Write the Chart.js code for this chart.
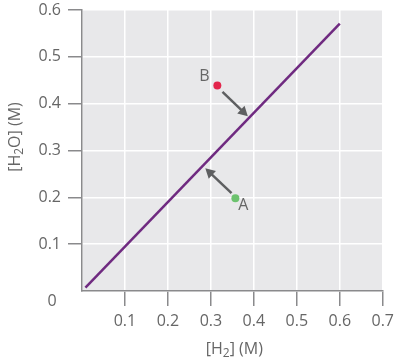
<!DOCTYPE html>
<html>
<head>
<meta charset="utf-8">
<script src="https://cdn.jsdelivr.net/npm/chart.js@4/dist/chart.umd.min.js"></script>
<style>
  html, body { margin: 0; padding: 0; background: #fff; }
  #wrap { width: 400px; height: 362px; }
</style>
</head>
<body>
<div id="wrap"><canvas id="chart" width="400" height="362"></canvas></div>
<script>
// equilibrium line ([H2], [H2O])
const lineX = [0.008, 0.6];
const lineY = [0.007, 0.571];

// the two states
const pointNames = ["B", "A"];
const pointX = [0.315, 0.357];
const pointY = [0.439, 0.198];
const pointColors = ["#e3264c", "#6cc26e"];

// arrows toward the line
const arrowFromX = [0.327, 0.348];
const arrowFromY = [0.425, 0.209];
const arrowToX = [0.386, 0.287];
const arrowToY = [0.373, 0.262];

const xTicks = [0, 0.1, 0.2, 0.3, 0.4, 0.5, 0.6, 0.7];
const yTicks = [0, 0.1, 0.2, 0.3, 0.4, 0.5, 0.6];

const textColor = "#666";
const fontFamily = "'Open Sans', sans-serif";

// draw a label with a subscript piece: parts = [[text, isSub], ...]
function drawRich(ctx, parts, cx, cy, size) {
  const subSize = Math.round(size * 0.72);
  let total = 0;
  parts.forEach(([t, sub]) => {
    ctx.font = (sub ? subSize : size) + "px " + fontFamily;
    total += ctx.measureText(t).width;
  });
  let x = cx - total / 2;
  ctx.textAlign = "left";
  ctx.textBaseline = "middle";
  parts.forEach(([t, sub]) => {
    ctx.font = (sub ? subSize : size) + "px " + fontFamily;
    ctx.fillText(t, x, sub ? cy + 5 : cy);
    x += ctx.measureText(t).width;
  });
}

const backgroundPlugin = {
  id: "plotBg",
  beforeDraw(chart) {
    const { ctx, chartArea: a } = chart;
    ctx.save();
    ctx.fillStyle = "#e8e8ea";
    ctx.fillRect(a.left, a.top, a.right - a.left, a.bottom - a.top);
    ctx.restore();
  },
};

const extrasPlugin = {
  id: "extras",
  afterDatasetsDraw(chart) {
    const { ctx } = chart;
    const xs = chart.scales.x;
    const ys = chart.scales.y;
    ctx.save();

    // arrows
    ctx.strokeStyle = "#5e5f61";
    ctx.fillStyle = "#5e5f61";
    ctx.lineWidth = 2.5;
    arrowFromX.forEach((fx, i) => {
      const x1 = xs.getPixelForValue(fx);
      const y1 = ys.getPixelForValue(arrowFromY[i]);
      const x2 = xs.getPixelForValue(arrowToX[i]);
      const y2 = ys.getPixelForValue(arrowToY[i]);
      const ang = Math.atan2(y2 - y1, x2 - x1);
      const head = 11;
      ctx.beginPath();
      ctx.moveTo(x1, y1);
      ctx.lineTo(x2 - Math.cos(ang) * head * 0.8, y2 - Math.sin(ang) * head * 0.8);
      ctx.stroke();
      ctx.beginPath();
      ctx.moveTo(x2, y2);
      ctx.lineTo(x2 - head * Math.cos(ang - 0.5), y2 - head * Math.sin(ang - 0.5));
      ctx.lineTo(x2 - head * Math.cos(ang + 0.5), y2 - head * Math.sin(ang + 0.5));
      ctx.closePath();
      ctx.fill();
    });

    // point names
    ctx.fillStyle = textColor;
    ctx.font = "16px " + fontFamily;
    ctx.textBaseline = "middle";
    ctx.textAlign = "center";
    const offsets = [[-13, -9], [8, 7]];
    pointNames.forEach((n, i) => {
      const px = xs.getPixelForValue(pointX[i]);
      const py = ys.getPixelForValue(pointY[i]);
      ctx.fillText(n, px + offsets[i][0], py + offsets[i][1]);
    });

    // origin "0"
    ctx.fillText("0", 52, ys.getPixelForValue(0) + 10);

    // axis titles
    drawRich(ctx, [["[H", false], ["2", true], ["] (M)", false]], (xs.left + xs.right) / 2 + 2, 349, 16);
    ctx.translate(15, 137);
    ctx.rotate(-Math.PI / 2);
    drawRich(ctx, [["[H", false], ["2", true], ["O] (M)", false]], 0, 0, 16);
    ctx.restore();
  },
};

const tickMarkColor = (c) => (c.tick && c.tick.value === 0 ? "rgba(0,0,0,0)" : "#8a8a8c");

new Chart(document.getElementById("chart"), {
  type: "scatter",
  data: {
    datasets: [
      {
        data: lineX.map((x, i) => ({ x, y: lineY[i] })),
        showLine: true,
        borderColor: "#6f2a80",
        borderWidth: 2.5,
        pointRadius: 0,
      },
      {
        data: pointX.map((x, i) => ({ x, y: pointY[i] })),
        pointBackgroundColor: pointColors,
        pointBorderColor: pointColors,
        pointRadius: 4,
        pointBorderWidth: 0,
      },
    ],
  },
  options: {
    responsive: false,
    animation: false,
    layout: { padding: { top: 10, right: 15, left: 0, bottom: 0 } },
    plugins: {
      legend: { display: false },
      tooltip: { enabled: false },
    },
    scales: {
      x: {
        type: "linear",
        min: 0,
        max: 0.7,
        afterBuildTicks: (s) => { s.ticks = xTicks.map((v) => ({ value: v })); },
        afterFit: (s) => { s.height = 71; },
        ticks: {
          callback: (v) => (v === 0 ? "" : v.toFixed(1)),
          color: textColor,
          font: { family: fontFamily, size: 16 },
          padding: 6,
          maxRotation: 0,
        },
        grid: { color: "#ffffff", lineWidth: 1.5, tickLength: 15, tickColor: tickMarkColor, tickWidth: 1.5 },
        border: { color: "#8a8a8c", width: 1.5 },
      },
      y: {
        type: "linear",
        min: 0,
        max: 0.6,
        afterBuildTicks: (s) => { s.ticks = yTicks.map((v) => ({ value: v })); },
        afterFit: (s) => { s.width = 82; s.paddingTop = 0; },
        ticks: {
          callback: (v) => (v === 0 ? "" : v.toFixed(1)),
          color: textColor,
          font: { family: fontFamily, size: 16 },
          padding: 7,
        },
        grid: { color: "#ffffff", lineWidth: 1.5, tickLength: 14, tickColor: tickMarkColor, tickWidth: 1.5 },
        border: { color: "#8a8a8c", width: 1.5 },
      },
    },
  },
  plugins: [backgroundPlugin, extrasPlugin],
});
</script>
</body>
</html>
